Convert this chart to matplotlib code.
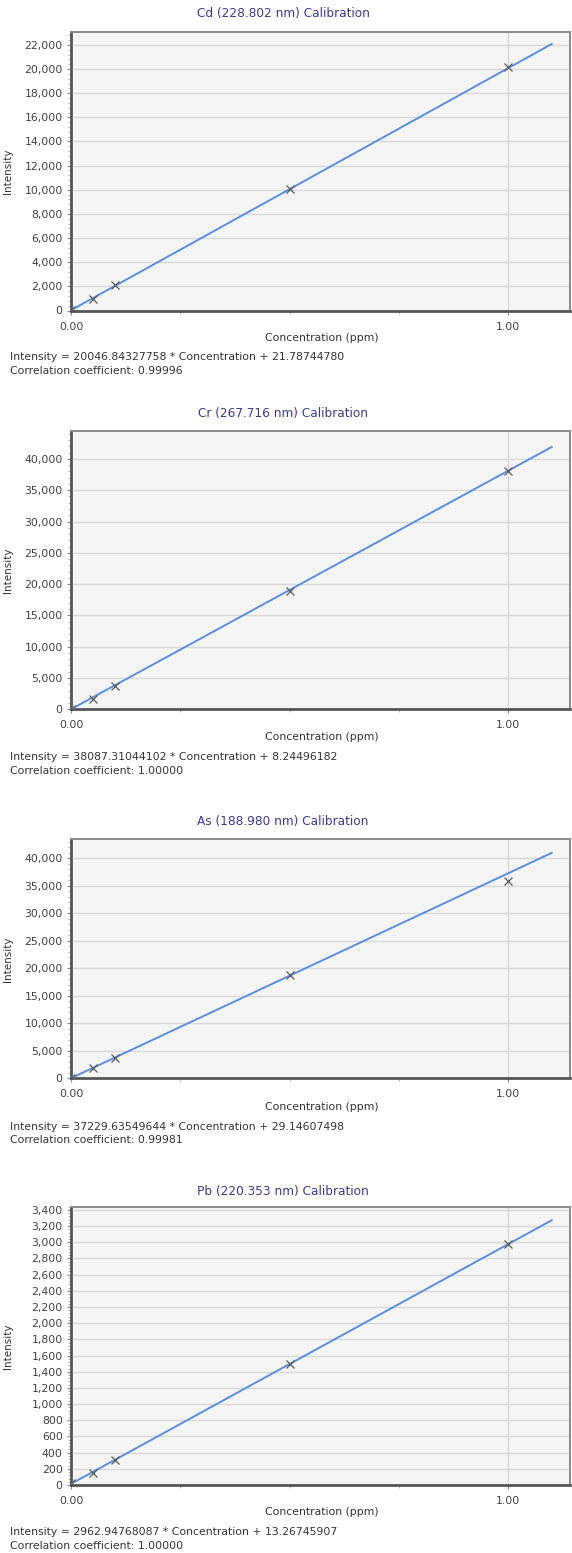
import numpy as np
import matplotlib.pyplot as plt
from matplotlib.ticker import FuncFormatter, MultipleLocator, FixedLocator

# calibration standards (ppm)
conc = [0.0, 0.05, 0.1, 0.5, 1.0]

# measured intensities of the standards
cd_int = [20, 980, 2080, 10050, 20190]
cr_int = [10, 1700, 3770, 18900, 38050]
as_int = [30, 1820, 3640, 18780, 35900]
pb_int = [25, 150, 309, 1494, 2975]

# fit results
cd_fit = (20046.84327758, 21.78744780, "0.99996")
cr_fit = (38087.31044102, 8.24496182, "1.00000")
as_fit = (37229.63549644, 29.14607498, "0.99981")
pb_fit = (2962.94768087, 13.26745907, "1.00000")

titles = ["Cd (228.802 nm) Calibration", "Cr (267.716 nm) Calibration",
          "As (188.980 nm) Calibration", "Pb (220.353 nm) Calibration"]
y_tops = [23110, 44460, 43450, 3440]
y_steps = [2000, 5000, 5000, 200]
y_minor = [400, 1000, 1000, 40]

W, H = 572, 1553
fig = plt.figure(figsize=(W / 100, H / 100), dpi=100)
plt.rcParams['font.family'] = 'DejaVu Sans'

# pixel rows: axes top, axes bottom, title, xlabel, equation lines
rows = [
    (31.5, 310.5, 14, 338, 357, 371),
    (431, 709.3, 414, 737, 757, 771),
    (839.3, 1078.3, 822, 1107, 1127, 1140),
    (1206.7, 1485, 1191, 1512, 1532, 1546),
]
left_px, right_px = 71, 570

line_col = '#5b8ed8'
title_col = '#3b3b8a'
text_col = '#333333'

datasets = [(cd_int, cd_fit), (cr_int, cr_fit), (as_int, as_fit), (pb_int, pb_fit)]

for i, ((ints, fit), title) in enumerate(zip(datasets, titles)):
    top, bot, ty, xly, e1, e2 = rows[i]
    ax = fig.add_axes([left_px / W, 1 - bot / H, (right_px - left_px) / W, (bot - top) / H])
    ax.set_facecolor('#f5f5f5')

    slope, icpt, r = fit
    xs = np.array([0.0, 1.1])
    ax.plot(xs, slope * xs + icpt, color=line_col, lw=1.4, zorder=3)
    ax.plot(conc, ints, 'x', color='#5a5a5a', ms=6, mew=0.9, zorder=4)

    ax.set_xlim(0, (right_px - left_px) / 437)
    ax.set_ylim(0, y_tops[i])

    ax.xaxis.set_major_locator(FixedLocator([0.0, 1.0]))
    ax.xaxis.set_minor_locator(MultipleLocator(0.25))
    ax.xaxis.set_major_formatter(FuncFormatter(lambda v, p: f"{v:.2f}"))
    ax.yaxis.set_major_locator(MultipleLocator(y_steps[i]))
    ax.yaxis.set_minor_locator(MultipleLocator(y_minor[i]))
    ax.yaxis.set_major_formatter(FuncFormatter(lambda v, p: f"{int(v):,}"))

    ax.grid(True, which='major', color='#d8d8d8', lw=1.0, zorder=0)
    ax.set_axisbelow(True)
    ax.tick_params(which='major', length=3, width=0.8, color='#888888',
                   labelsize=7.8, labelcolor='#404040', pad=3)
    ax.tick_params(which='minor', length=2, width=0.6, color='#aaaaaa')
    ax.tick_params(axis='x', pad=5)

    for s in ['left', 'bottom']:
        ax.spines[s].set_color('#555555')
        ax.spines[s].set_linewidth(2.0)
    for s in ['top', 'right']:
        ax.spines[s].set_color('#8a8a8a')
        ax.spines[s].set_linewidth(1.4)

    ax.set_ylabel('Intensity', fontsize=7.5, color=text_col)
    ax.yaxis.set_label_coords(-(left_px - 13) / (right_px - left_px), 0.5)

    fig.text(283 / W, 1 - ty / H, title, ha='center', va='center',
             fontsize=8.7, color=title_col)
    fig.text(322 / W, 1 - xly / H, 'Concentration (ppm)', ha='center', va='center',
             fontsize=7.8, color=text_col)
    fig.text(10 / W, 1 - e1 / H,
             f"Intensity = {slope:.8f} * Concentration + {icpt:.8f}",
             ha='left', va='center', fontsize=7.8, color=text_col)
    fig.text(10 / W, 1 - e2 / H, f"Correlation coefficient: {r}",
             ha='left', va='center', fontsize=7.8, color=text_col)

fig.savefig('out.png', dpi=100, facecolor='white')
